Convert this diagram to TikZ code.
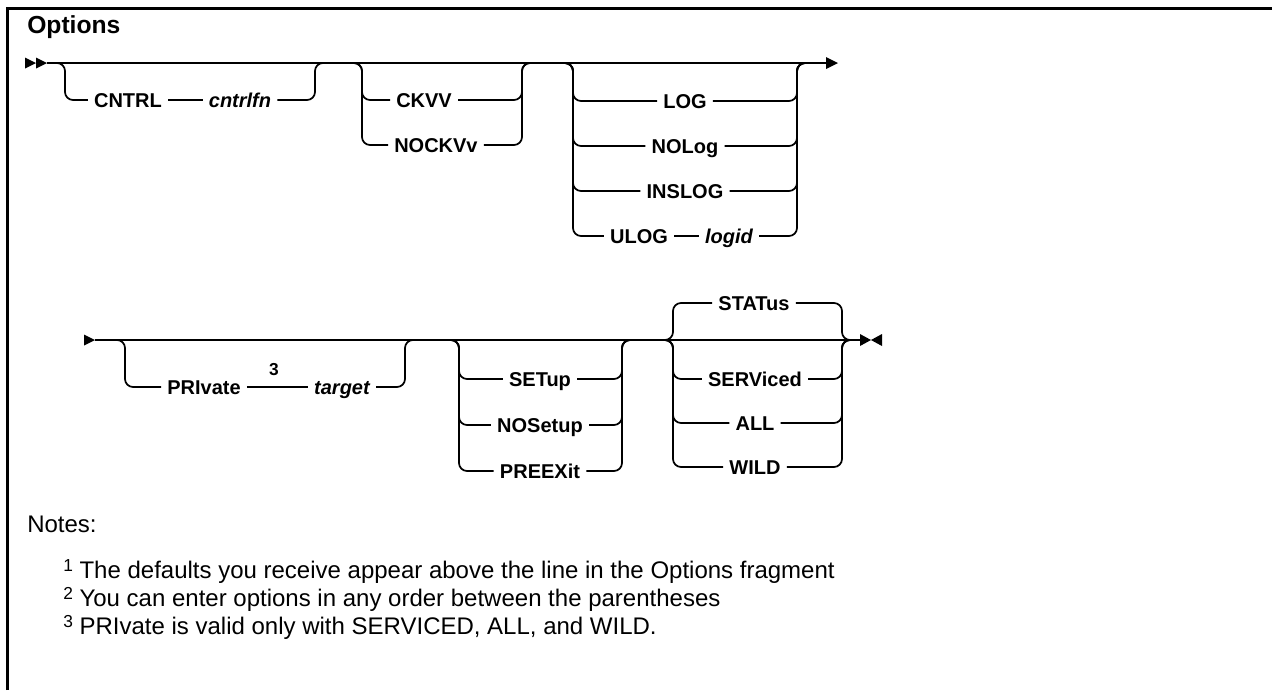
\documentclass[tikz,border=0pt]{standalone}
\usepackage{fontspec}
\setmainfont{Liberation Sans}
\usepackage{tikz}
\newcommand\notesup[1]{\raisebox{5pt}{\fontsize{13}{13}\selectfont#1}}

\begin{document}
\begin{tikzpicture}[x=.75pt,y=-.75pt,
 rail/.style={line width=1.3pt,rounded corners=6pt},
 kw/.style={font=\fontsize{15}{16}\selectfont\bfseries,inner xsep=4.5pt,inner ysep=0pt,text height=13.4pt,text depth=2.6pt},
 var/.style={kw,font=\fontsize{15}{16}\selectfont\bfseries\itshape},
 note/.style={anchor=base west,inner sep=0pt,font=\fontsize{18}{20}\selectfont}]
\useasboundingbox (0,0) rectangle (1272,690);
\draw[line width=2.25pt] (7,690)--(7,8)--(1272,8);
\node[anchor=base west,inner sep=0pt,font=\fontsize{18.5}{20}\selectfont\bfseries] (title) at (27,33) {Options};
\coordinate (r1s) at (47,63);\coordinate (r1e) at (826,63);
\fill (r1s)--++(-11,-5.5)--++(0,11)--cycle;\fill ([xshift=-8.25pt]r1s)--++(-11,-5.5)--++(0,11)--cycle;
\draw[rail] (r1s)--(r1e);\fill (r1e)++(0,-6)--++(12,6)--++(-12,6)--cycle;
\coordinate (aL) at (65,63);\coordinate (aR) at (315,63);
\node[kw] (cntrl) at (128,100) {CNTRL};\node[var] (cntrlfn) at (240,100) {cntrlfn};
\draw[rail] ([xshift=-7.5pt]aL)--(aL)|-(cntrl.west);\draw[rail] (cntrl)--(cntrlfn);
\draw[rail] (cntrlfn.east)-|(aR)--([xshift=7.5pt]aR);
\coordinate (bL) at (362,63);\coordinate (bR) at (522,63);
\node[kw,anchor=west] (ckvv) at (390,100) {CKVV};\node[kw,anchor=west] (nockvv) at (388,145) {NOCKVv};
\draw[rail] ([xshift=-7.5pt]bL)--(bL)|-(ckvv.west);\draw[rail] ([xshift=-7.5pt]bL)--(bL)|-(nockvv.west);
\draw[rail] (ckvv.east)-|(bR)--([xshift=7.5pt]bR);\draw[rail] (nockvv.east)-|(bR)--([xshift=7.5pt]bR);
\coordinate (cL) at (573,63);\coordinate (cR) at (797,63);
\node[kw] (log) at (685,101) {LOG};\node[kw] (nolog) at (685,146) {NOLog};\node[kw] (inslog) at (685,191) {INSLOG};
\node[kw] (ulog) at (639,236) {ULOG};\node[var] (logid) at (729,236) {logid};
\draw[rail] ([xshift=-7.5pt]cL)--(cL)|-(log.west);\draw[rail] ([xshift=-7.5pt]cL)--(cL)|-(nolog.west);
\draw[rail] ([xshift=-7.5pt]cL)--(cL)|-(inslog.west);\draw[rail] ([xshift=-7.5pt]cL)--(cL)|-(ulog.west);
\draw[rail] (ulog)--(logid);
\draw[rail] (log.east)-|(cR)--([xshift=7.5pt]cR);\draw[rail] (nolog.east)-|(cR)--([xshift=7.5pt]cR);
\draw[rail] (inslog.east)-|(cR)--([xshift=7.5pt]cR);\draw[rail] (logid.east)-|(cR)--([xshift=7.5pt]cR);
\coordinate (r2s) at (95,340);\coordinate (r2e) at (860,340);
\fill (r2s)--++(-11,-5.5)--++(0,11)--cycle;\draw[rail] (r2s)--(r2e);
\fill (r2e)++(0,-6)--++(11,6)--++(-11,6)--cycle;\fill (r2e)++(22,-6)--++(-11,6)--++(11,6)--cycle;
\coordinate (dL) at (125,340);\coordinate (dR) at (405,340);
\node[kw] (private) at (204,387) {PRIvate};\node[var] (target) at (342,387) {target};
\node[inner sep=0pt,font=\fontsize{13}{13}\selectfont\bfseries] (sup3) at (274,370) {3};
\draw[rail] ([xshift=-7.5pt]dL)--(dL)|-(private.west);\draw[rail] (private)--(target);
\draw[rail] (target.east)-|(dR)--([xshift=7.5pt]dR);
\coordinate (eL) at (459,340);\coordinate (eR) at (622,340);
\node[kw] (setup) at (540,379) {SETup};\node[kw] (nosetup) at (540,425) {NOSetup};\node[kw] (preexit) at (540,471) {PREEXit};
\draw[rail] ([xshift=-7.5pt]eL)--(eL)|-(setup.west);\draw[rail] ([xshift=-7.5pt]eL)--(eL)|-(nosetup.west);
\draw[rail] ([xshift=-7.5pt]eL)--(eL)|-(preexit.west);
\draw[rail] (setup.east)-|(eR)--([xshift=7.5pt]eR);\draw[rail] (nosetup.east)-|(eR)--([xshift=7.5pt]eR);
\draw[rail] (preexit.east)-|(eR)--([xshift=7.5pt]eR);
\coordinate (fL) at (673,340);\coordinate (fR) at (842,340);
\node[kw] (status) at (754,303) {STATus};\node[kw] (serviced) at (755,379) {SERViced};
\node[kw] (all) at (755,423) {ALL};\node[kw] (wild) at (755,467) {WILD};
\draw[rail] ([xshift=-7.5pt]fL)--(fL)|-(status.west);\draw[rail] ([xshift=-7.5pt]fL)--(fL)|-(serviced.west);
\draw[rail] ([xshift=-7.5pt]fL)--(fL)|-(all.west);\draw[rail] ([xshift=-7.5pt]fL)--(fL)|-(wild.west);
\draw[rail] (status.east)-|(fR)--([xshift=7.5pt]fR);\draw[rail] (serviced.east)-|(fR)--([xshift=7.5pt]fR);
\draw[rail] (all.east)-|(fR)--([xshift=7.5pt]fR);\draw[rail] (wild.east)-|(fR)--([xshift=7.5pt]fR);
\node[note] (notes) at (27,532) {Notes:};
\node[note] (note1) at (63,578) {\notesup{1} The defaults you receive appear above the line in the Options fragment};
\node[note] (note2) at (63,606) {\notesup{2} You can enter options in any order between the parentheses};
\node[note] (note3) at (63,634) {\notesup{3} PRIvate is valid only with SERVICED, ALL, and WILD.};
\end{tikzpicture}
\end{document}
